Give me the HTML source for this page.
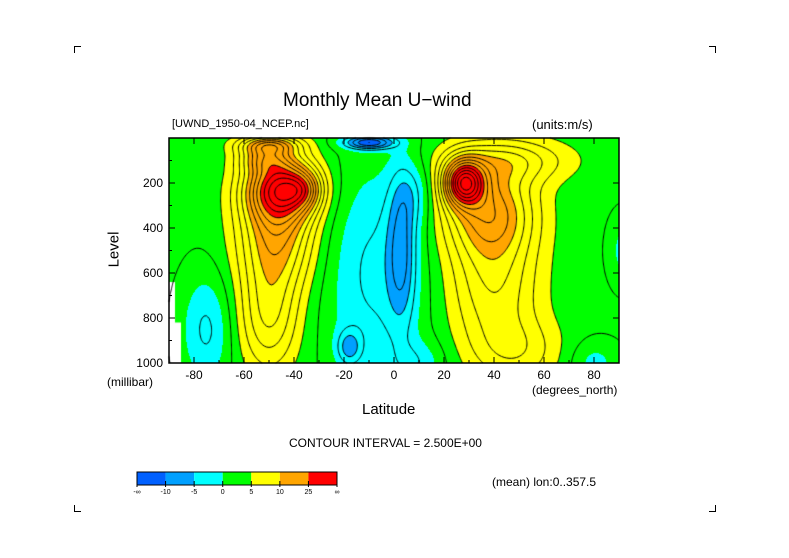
<!DOCTYPE html>
<html><head><meta charset="utf-8">
<style>
body{margin:0;background:#fff;width:789px;height:558px;overflow:hidden;position:relative;font-family:"Liberation Sans",sans-serif;color:#000}
.t{position:absolute;white-space:nowrap;line-height:1}
.c{position:absolute;width:6px;height:6px}
</style></head><body>
<div class="c" style="left:74px;top:46px;border-left:1px solid #000;border-top:1px solid #000"></div>
<div class="c" style="left:709px;top:46px;border-right:1px solid #000;border-top:1px solid #000"></div>
<div class="c" style="left:74px;top:505px;border-left:1px solid #000;border-bottom:1px solid #000"></div>
<div class="c" style="left:709px;top:505px;border-right:1px solid #000;border-bottom:1px solid #000"></div>
<div class="t" style="left:283px;top:91px;font-size:19px">Monthly Mean U−wind</div>
<div class="t" style="left:172px;top:119px;font-size:11px">[UWND_1950-04_NCEP.nc]</div>
<div class="t" style="left:532px;top:118px;font-size:13px">(units:m/s)</div>
<div class="t" style="left:96px;top:242px;font-size:15px;transform:rotate(-90deg)">Level</div>
<div class="t" style="left:107px;top:376px;font-size:12px">(millibar)</div>
<div class="t" style="left:532px;top:384px;font-size:12px">(degrees_north)</div>
<div class="t" style="left:362px;top:402px;font-size:15px">Latitude</div>
<div class="t" style="left:289px;top:437px;font-size:12px">CONTOUR INTERVAL = 2.500E+00</div>
<div class="t" style="left:492px;top:476px;font-size:12px">(mean) lon:0..357.5</div>
<canvas id="cv" width="789" height="558" style="position:absolute;left:0;top:0"></canvas>
<svg id="ax" width="789" height="558" style="position:absolute;left:0;top:0"></svg>
<script>
const levels=[-10,-5,0,5,15,25];
const colors=["#0060ff","#00a0ff","#00ffff","#00ff00","#ffff00","#ffa500","#ff0000"];
const cbLabels=["-∞","-10","-5","0","5","10","25","∞"];
const latTicks=[-80,-60,-40,-20,0,20,40,60,80];
const pTicks=[200,400,600,800,1000];
// blobs: lat, pressure, amplitude, lat half-width, pressure half-width
const blobLat=[-45,-47,-50,-50,28,38,40,50,45,3,-8,-10,-18,10,-75,92,80,8,-36,-52];
const blobP  =[220,420,800,30,200,320,650,950,100,500,600,20,930,1000,850,500,1000,250,230,90];
const blobAmp=[22,14,9,12,24,14,9,5,8,-8,-6,-14,-7,-4,-6,-4,-4,-4,7,9];
const blobWL =[14,15,12,12,8,18,18,18,25,6,20,10,5,10,10,6,10,7,7,10];
const blobWP =[140,250,250,40,100,200,300,150,100,350,500,30,80,100,250,150,100,150,80,60];
const base=3;
const X0=169,X1=619,Y0=138,Y1=363;
const xs=l=>X0+(l+90)/180*(X1-X0);
const ys=p=>Y0+p/1000*(Y1-Y0);
function u(lat,p){let v=base;for(let i=0;i<blobLat.length;i++){const a=(lat-blobLat[i])/blobWL[i],b=(p-blobP[i])/blobWP[i];v+=blobAmp[i]*Math.exp(-a*a-b*b);}return v;}
function col(v){let k=0;while(k<levels.length&&v>=levels[k])k++;return colors[k];}
const cv=document.getElementById('cv'),cx=cv.getContext('2d');
for(let x=X0;x<X1;x++)for(let y=Y0;y<Y1;y++){const lat=(x+.5-X0)/(X1-X0)*180-90,p=(y+.5-Y0)/(Y1-Y0)*1000;cx.fillStyle=col(u(lat,p));cx.fillRect(x,y,1,1);}
cx.fillStyle="#fff";cx.fillRect(X0,ys(640),6,Y1-ys(640));cx.fillRect(X0,ys(820),12,Y1-ys(820));
const NL=181,NP=201,G=[];
for(let j=0;j<NP;j++){G.push([]);for(let i=0;i<NL;i++)G[j].push(u(-90+i,j*5));}
cx.lineWidth=1;cx.strokeStyle="#000";
for(let c=-20;c<=40;c+=2.5){if(Math.abs(c)<1e-6)continue;cx.setLineDash(c<0?[4,3]:[]);cx.beginPath();
for(let j=0;j<NP-1;j++)for(let i=0;i<NL-1;i++){const v=[G[j][i],G[j][i+1],G[j+1][i+1],G[j+1][i]];const pts=[];
const cr=(a,b)=>{if((v[a]-c)*(v[b]-c)<0){const t=(c-v[a])/(v[b]-v[a]);const P=[[i,j],[i+1,j],[i+1,j+1],[i,j+1]];pts.push([P[a][0]+t*(P[b][0]-P[a][0]),P[a][1]+t*(P[b][1]-P[a][1])]);}};
cr(0,1);cr(1,2);cr(2,3);cr(3,0);
for(let k=0;k+1<pts.length;k+=2){cx.moveTo(xs(-90+pts[k][0]),ys(pts[k][1]*5));cx.lineTo(xs(-90+pts[k+1][0]),ys(pts[k+1][1]*5));}}
cx.stroke();}
cx.setLineDash([]);
const ax=document.getElementById('ax'),NS="http://www.w3.org/2000/svg";
function mk(t,a,txt){const e=document.createElementNS(NS,t);for(const k in a)e.setAttribute(k,a[k]);if(txt!==undefined)e.textContent=txt;ax.appendChild(e);return e;}
let fr=mk('rect',{x:X0,y:Y0,width:X1-X0,height:Y1-Y0,fill:'none',stroke:'#000','stroke-width':1.5});


latTicks.forEach(l=>{const x=xs(l);mk('line',{x1:x,x2:x,y1:Y1,y2:Y1-6,stroke:'#000'});mk('line',{x1:x,x2:x,y1:Y0,y2:Y0+6,stroke:'#000'});
const t=mk('text',{x:x,y:Y1+16,'font-size':12,'text-anchor':'middle','font-family':'Liberation Sans'},l);

});
for(let l=-90;l<=90;l+=10){const x=xs(l);mk('line',{x1:x,x2:x,y1:Y1,y2:Y1-3,stroke:'#000'});}
pTicks.forEach(p=>{const y=ys(p);mk('line',{x1:X0,x2:X0+6,y1:y,y2:y,stroke:'#000'});mk('line',{x1:X1,x2:X1-6,y1:y,y2:y,stroke:'#000'});
const t=mk('text',{x:X0-6,y:y+4,'font-size':12,'text-anchor':'end','font-family':'Liberation Sans'},p);

});
for(let p=100;p<=1000;p+=100){const y=ys(p);mk('line',{x1:X0,x2:X0+3,y1:y,y2:y,stroke:'#000'});}
const CB0=137,CBW=200/colors.length;
colors.forEach((c,i)=>{const r=mk('rect',{x:CB0+i*CBW,y:472,width:CBW,height:13,fill:c});

});
mk('rect',{x:CB0,y:472,width:200,height:13,fill:'none',stroke:'#000'});
cbLabels.forEach((s,i)=>{const x=CB0+i*CBW;mk('line',{x1:x,x2:x,y1:481,y2:487,stroke:'#000'});
const t=mk('text',{x:x,y:494,'font-size':7,'text-anchor':'middle','font-family':'Liberation Sans'},s);

});
</script>
</body></html>
